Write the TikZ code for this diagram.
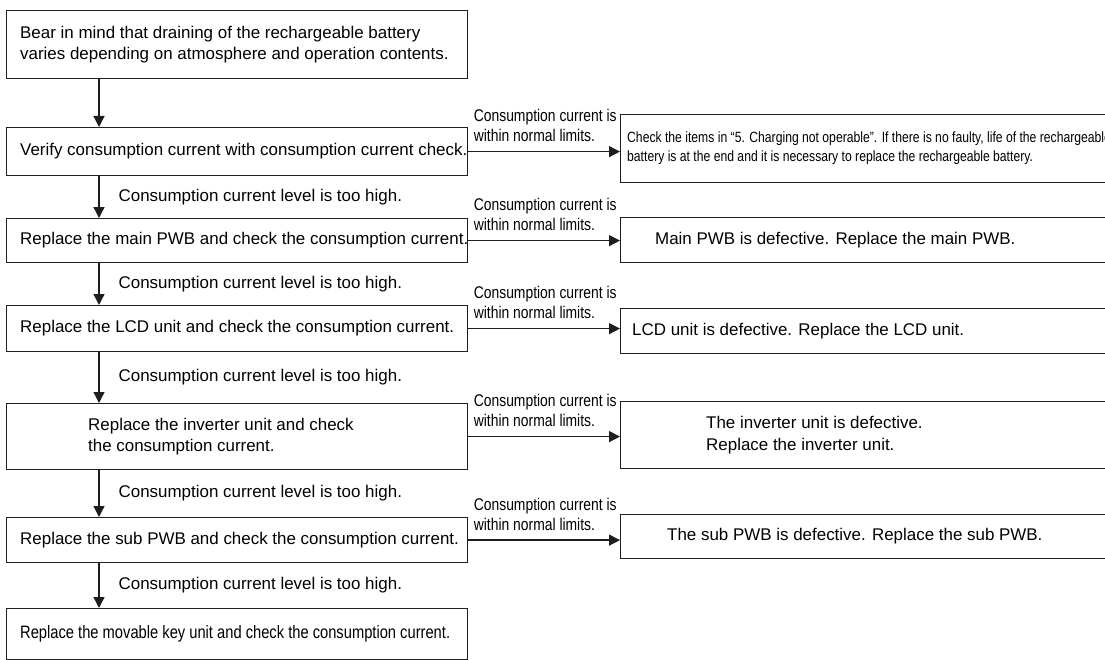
\documentclass[tikz,border=0pt]{standalone}
\usepackage{fontspec}
\setmainfont{Liberation Sans}
\newfontfamily\narrowfont[FakeStretch=0.82]{Liberation Sans}
\usepackage{tikz}
\usetikzlibrary{arrows.meta,calc}
\definecolor{ink}{HTML}{1E1E1E}

\begin{document}
\begin{tikzpicture}[x=1bp,y=-1bp,
  box/.style={draw=ink,line width=1.2bp,anchor=north west,inner sep=0pt},
  txt/.style={anchor=west,inner sep=0pt,align=left,font=\fontsize{17}{21.5}\selectfont},
  note/.style={txt,font=\narrowfont\fontsize{14.9}{19}\selectfont},
  keyt/.style={txt,font=\narrowfont\fontsize{18}{21}\selectfont},
  lbl/.style={inner sep=0pt,align=left,font=\narrowfont\fontsize{17}{20}\selectfont},
  arr/.style={draw=ink,line width=1.3bp,-{Triangle[length=11bp,width=11bp]}}]
  \useasboundingbox (0,0) rectangle (1105,660);
  \clip (0,0) rectangle (1105,660);
  % left column: the checks
  \foreach \n/\y/\h/\dx/\f/\t in {
    1/10/68/14/txt/{Bear in mind that draining of the rechargeable battery\\varies depending on atmosphere and operation contents.},
    2/127/48/14/txt/{Verify consumption current with consumption current check.},
    3/218/44/14/txt/{Replace the main PWB and check the consumption current.},
    4/305/46/14/txt/{Replace the LCD unit and check the consumption current.},
    5/403/66/82/txt/{Replace the inverter unit and check\\the consumption current.},
    6/517/45/14/txt/{Replace the sub PWB and check the consumption current.},
    7/608/51/14/keyt/{Replace the movable key unit and check the consumption current.}} {
    \node[box,minimum width=461bp,minimum height=\h bp] (s\n) at (6,\y) {};
    \node[\f] at ([xshift=\dx bp]s\n.west) {\t};
  }
  % right column: the findings
  \foreach \n/\y/\h/\dx/\f/\t in {
    2/114/68/7/note/{Check the items in “5. Charging not operable”. If there is no faulty, life of the rechargeable\\battery is at the end and it is necessary to replace the rechargeable battery.},
    3/217/45/35/txt/{Main PWB is defective. Replace the main PWB.},
    4/308/45/12/txt/{LCD unit is defective. Replace the LCD unit.},
    5/401/67/86/txt/{The inverter unit is defective.\\Replace the inverter unit.},
    6/514/44/47/txt/{The sub PWB is defective. Replace the sub PWB.}} {
    \node[box,minimum width=500bp,minimum height=\h bp] (d\n) at (620,\y) {};
    \node[\f] at ([xshift=\dx bp]d\n.west) {\t};
  }
  \draw[arr] ([xshift=93bp]s1.south west) -- ([xshift=93bp]s2.north west);
  \foreach \a/\b in {2/3,3/4,4/5,5/6,6/7}
    \draw[arr] ([xshift=93bp]s\a.south west) -- node[txt,midway,xshift=19bp] {Consumption current level is too high.} ([xshift=93bp]s\b.north west);
  \foreach \n in {2,...,6}
    \draw[arr] (s\n.east) -- (s\n.east -| d\n.west)
      node[lbl,pos=0,anchor=south west,xshift=5bp,yshift=9bp] {Consumption current is\\within normal limits.};
\end{tikzpicture}
\end{document}
